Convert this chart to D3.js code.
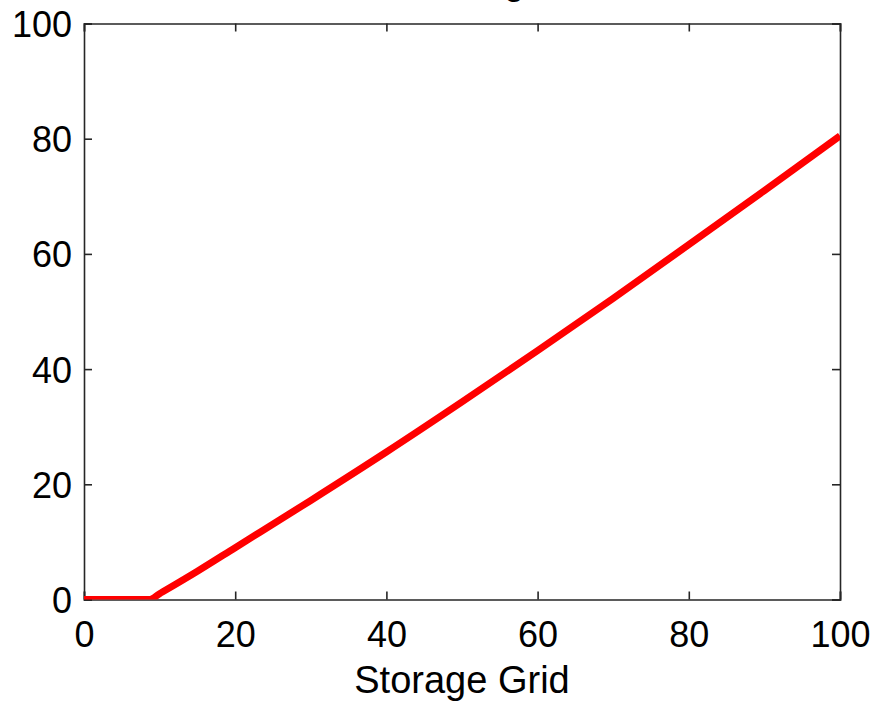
<!DOCTYPE html>
<html>
<head>
<meta charset="utf-8">
<script src="https://cdn.jsdelivr.net/npm/d3@7"></script>
<style>
  html, body { margin: 0; padding: 0; background: #fff; }
  svg { display: block; }
  text { font-family: "Liberation Sans", Arial, sans-serif; fill: #000; }
</style>
</head>
<body>
<svg id="chart" width="877" height="704"></svg>
<script>
// Curve samples: storage grid position vs. value
const gridX  = [0, 8.7, 10, 15, 20, 30, 40, 50, 60, 70, 80, 90, 100];
const valueY = [0, 0, 1.0, 4.9, 9.0, 17.2, 25.6, 34.3, 43.2, 52.3, 61.6, 71.0, 80.5];
const xTicks = [0, 20, 40, 60, 80, 100];
const yTicks = [0, 20, 40, 60, 80, 100];
const titleText = "Discharge";
const xLabel = "Storage Grid";

const svg = d3.select("#chart");
const L = 84, R = 840, T = 23.5, B = 599.5;

const x = d3.scaleLinear().domain([0, 100]).range([L, R]);
const y = d3.scaleLinear().domain([0, 100]).range([B, T]);

const axisColor = "#262626";
const tickLen = 8;
const fontSize = 36;

// Title (sits above the top of the page)
svg.append("text")
  .attr("x", (L + R) / 2)
  .attr("y", -6)
  .attr("text-anchor", "middle")
  .style("font-size", "37px")
  .text(titleText);

// Bottom axis: inward ticks, labels below
const axBottom = svg.append("g").attr("transform", `translate(0,${B})`)
  .call(d3.axisBottom(x).tickValues(xTicks).tickSize(-tickLen).tickPadding(tickLen + 14).tickFormat(d3.format("d")));
// Top axis: inward ticks, no labels
const axTop = svg.append("g").attr("transform", `translate(0,${T})`)
  .call(d3.axisTop(x).tickValues(xTicks).tickSize(-tickLen).tickFormat(""));
// Left axis: inward ticks, labels on left
const axLeft = svg.append("g").attr("transform", `translate(${L},0)`)
  .call(d3.axisLeft(y).tickValues(yTicks).tickSize(-tickLen).tickPadding(tickLen + 4).tickFormat(d3.format("d")));
// Right axis: inward ticks, no labels
const axRight = svg.append("g").attr("transform", `translate(${R},0)`)
  .call(d3.axisRight(y).tickValues(yTicks).tickSize(-tickLen).tickFormat(""));

[axBottom, axTop, axLeft, axRight].forEach(g => {
  g.select(".domain").attr("stroke", axisColor).attr("stroke-width", 1.6);
  g.selectAll(".tick line").attr("stroke", axisColor).attr("stroke-width", 1.6);
  g.selectAll(".tick text")
    .attr("fill", "#000")
    .style("font-family", '"Liberation Sans", Arial, sans-serif')
    .style("font-size", fontSize + "px");
});
axBottom.selectAll(".tick text").attr("dy", "0.71em");
axLeft.selectAll(".tick text").attr("dy", "0.36em");

// Clip region for the curve (the plot box)
svg.append("clipPath").attr("id", "plot-clip")
  .append("rect").attr("x", L).attr("y", T).attr("width", R - L).attr("height", B - T);

const pts = gridX.map((g, i) => [g, valueY[i]]);
const line = d3.line()
  .x(d => x(d[0]))
  .y(d => y(d[1]))
  .curve(d3.curveMonotoneX);

svg.append("path")
  .datum(pts)
  .attr("clip-path", "url(#plot-clip)")
  .attr("fill", "none")
  .attr("stroke", "#ff0000")
  .attr("stroke-width", 7)
  .attr("stroke-linejoin", "round")
  .attr("d", line);

// X axis label
svg.append("text")
  .attr("x", (L + R) / 2)
  .attr("y", 693)
  .attr("text-anchor", "middle")
  .style("font-size", "38px")
  .text(xLabel);
</script>
</body>
</html>
